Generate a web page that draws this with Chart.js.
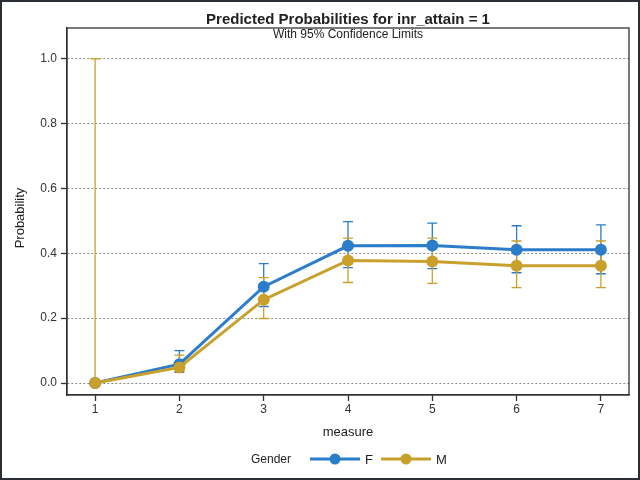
<!DOCTYPE html>
<html>
<head>
<meta charset="utf-8">
<script src="https://cdn.jsdelivr.net/npm/chart.js@4"></script>
<style>
html,body{margin:0;padding:0;background:#fff;}
#wrap{width:640px;height:480px;position:relative;}
</style>
</head>
<body>
<div id="wrap"><canvas id="c" width="640" height="480"></canvas></div>
<script>
const measures = [1, 2, 3, 4, 5, 6, 7];
const xTicks = [1, 2, 3, 4, 5, 6, 7];
const yTicks = [0, 0.2, 0.4, 0.6, 0.8, 1.0];
const femaleProb  = [0, 0.058, 0.297, 0.423, 0.424, 0.411, 0.411];
const femaleLower = [0, 0.033, 0.236, 0.356, 0.353, 0.340, 0.337];
const femaleUpper = [0, 0.100, 0.368, 0.498, 0.493, 0.485, 0.488];
const maleProb    = [0, 0.048, 0.257, 0.378, 0.375, 0.362, 0.362];
const maleLower   = [0, 0.036, 0.199, 0.310, 0.307, 0.294, 0.294];
const maleUpper   = [1.0, 0.086, 0.325, 0.447, 0.447, 0.438, 0.438];

const BLUE = '#2b7dc9';
const GOLD = '#c8a02b';
const FONT = '"Liberation Sans", Arial, sans-serif';

const limits = [
  {lower: femaleLower, upper: femaleUpper, color: BLUE},
  {lower: maleLower, upper: maleUpper, color: GOLD}
];

const errorBarPlugin = {
  id: 'errorBars',
  beforeDatasetsDraw(chart) {
    const ctx = chart.ctx, xs = chart.scales.x, ys = chart.scales.y;
    ctx.save();
    limits.forEach(l => {
      ctx.strokeStyle = l.color;
      ctx.lineWidth = 1.3;
      measures.forEach((m, i) => {
        if (l.upper[i] === l.lower[i]) return;
        const px = xs.getPixelForValue(m);
        const py1 = ys.getPixelForValue(l.lower[i]);
        const py2 = ys.getPixelForValue(l.upper[i]);
        ctx.beginPath();
        ctx.moveTo(px, py1); ctx.lineTo(px, py2);
        ctx.moveTo(px - 5, py1); ctx.lineTo(px + 5, py1);
        ctx.moveTo(px - 5, py2); ctx.lineTo(px + 5, py2);
        ctx.stroke();
      });
    });
    ctx.restore();
  }
};

const decorPlugin = {
  id: 'decor',
  afterDraw(chart) {
    const ctx = chart.ctx, a = chart.chartArea;
    ctx.save();
    // plot frame
    ctx.strokeStyle = '#333';
    ctx.lineWidth = 1.3;
    ctx.strokeRect(a.left, a.top, a.right - a.left, a.bottom - a.top);
    // outer frame
    ctx.strokeStyle = '#2a2f36';
    ctx.lineWidth = 2;
    ctx.strokeRect(1, 1, 638, 478);
    const cx = (a.left + a.right) / 2;
    ctx.fillStyle = '#222';
    ctx.textAlign = 'center';
    ctx.textBaseline = 'middle';
    ctx.font = 'bold 15px ' + FONT;
    ctx.fillText('Predicted Probabilities for inr_attain = 1', cx, 20);
    ctx.font = '12px ' + FONT;
    ctx.fillText('With 95% Confidence Limits', cx, 35);
    // axis titles
    ctx.font = '13px ' + FONT;
    ctx.fillText('measure', cx, 432);
    ctx.save();
    ctx.translate(20, 218);
    ctx.rotate(-Math.PI / 2);
    ctx.fillText('Probability', 0, 0);
    ctx.restore();
    // legend
    ctx.textAlign = 'left';
    ctx.font = '12px ' + FONT;
    ctx.fillStyle = '#222';
    ctx.fillText('Gender', 251, 460);
    const items = chart.data.datasets.map(d => ({label: d.label, color: d.borderColor}));
    let x = 310;
    items.forEach(it => {
      ctx.strokeStyle = it.color;
      ctx.lineWidth = 3;
      ctx.beginPath(); ctx.moveTo(x, 459); ctx.lineTo(x + 50, 459); ctx.stroke();
      ctx.fillStyle = it.color;
      ctx.beginPath(); ctx.arc(x + 25, 459, 5.5, 0, Math.PI * 2); ctx.fill();
      ctx.fillStyle = '#222';
      ctx.font = '13px ' + FONT;
      ctx.fillText(it.label, x + 55, 460);
      x += 71;
    });
    ctx.restore();
  }
};

new Chart(document.getElementById('c'), {
  type: 'line',
  data: {
    datasets: [
      {label: 'F', order: 1, data: measures.map((m, i) => ({x: m, y: femaleProb[i]})),
       borderColor: BLUE, backgroundColor: BLUE, borderWidth: 3,
       pointRadius: 6, pointHoverRadius: 6, pointBackgroundColor: BLUE, pointBorderWidth: 0, tension: 0},
      {label: 'M', order: 0, data: measures.map((m, i) => ({x: m, y: maleProb[i]})),
       borderColor: GOLD, backgroundColor: GOLD, borderWidth: 3,
       pointRadius: 6, pointHoverRadius: 6, pointBackgroundColor: GOLD, pointBorderWidth: 0, tension: 0}
    ]
  },
  options: {
    responsive: false,
    animation: false,
    devicePixelRatio: 1,
    layout: {padding: {top: 28, right: 11, left: 0, bottom: 0}},
    plugins: {legend: {display: false}, title: {display: false}, tooltip: {enabled: false}},
    scales: {
      x: {
        type: 'linear', min: 2 / 3, max: 22 / 3,
        afterBuildTicks: s => { s.ticks = xTicks.map(v => ({value: v})); },
        afterFit: s => { s.height = 85; },
        grid: {drawOnChartArea: false, drawTicks: true, tickLength: 6, tickColor: '#333', tickWidth: 1.3},
        border: {display: true, color: '#333', width: 1.3},
        ticks: {color: '#333', font: {family: FONT, size: 12}, padding: 1, maxRotation: 0,
                callback: v => String(v)}
      },
      y: {
        type: 'linear', min: -0.037, max: 1.095,
        afterBuildTicks: s => { s.ticks = yTicks.map(v => ({value: v})); },
        afterFit: s => { s.width = 67; },
        grid: {drawOnChartArea: true, color: '#8a8a8a', lineWidth: 1, drawTicks: true,
               tickLength: 6, tickColor: '#333', tickWidth: 1.3, tickBorderDash: []},
        border: {display: true, color: '#333', width: 1.3, dash: [2, 2]},
        ticks: {color: '#333', font: {family: FONT, size: 12}, padding: 4,
                callback: v => v.toFixed(1)}
      }
    }
  },
  plugins: [errorBarPlugin, decorPlugin]
});
</script>
</body>
</html>
